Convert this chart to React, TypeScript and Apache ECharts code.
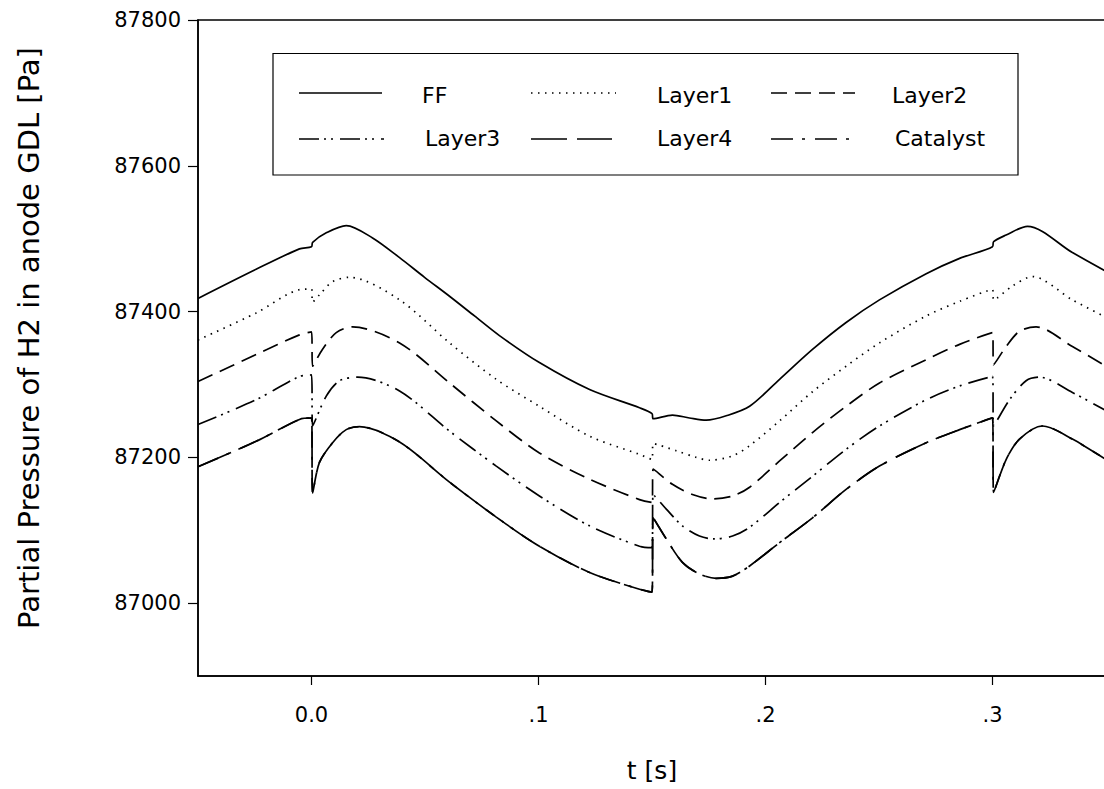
import React, { useEffect, useRef } from "react";
import * as echarts from "echarts";

const FONT = "DejaVu Sans";

const seriesNames = ["FF", "Layer1", "Layer2", "Layer3", "Layer4", "Catalyst"];
const xTicks = [0, 0.1, 0.2, 0.3];
const xTickLabels = ["0.0", ".1", ".2", ".3"];
const yTicks = [87000, 87200, 87400, 87600, 87800];

// [t (s), pressure (Pa)]
const ffData = [
  [-0.05, 87418], [-0.0244, 87458], [-0.0053, 87486], [0, 87489], [0.0005, 87495],
  [0.0065, 87508], [0.0153, 87518], [0.0269, 87501], [0.0388, 87474], [0.0498, 87447],
  [0.0608, 87421], [0.0718, 87394], [0.0828, 87367], [0.1004, 87330], [0.1225, 87293],
  [0.1445, 87268], [0.15, 87260], [0.1505, 87253], [0.159, 87258], [0.1665, 87254],
  [0.1739, 87251], [0.1827, 87257], [0.193, 87270], [0.2062, 87307], [0.2207, 87348],
  [0.2355, 87385], [0.2502, 87416], [0.2708, 87452], [0.2855, 87473], [0.3, 87489],
  [0.3005, 87496], [0.306, 87505], [0.3154, 87517], [0.3352, 87481], [0.35, 87455],
];
const layer1Data = [
  [-0.05, 87361], [-0.0244, 87398], [-0.0053, 87430], [0, 87431], [0.0005, 87413],
  [0.0035, 87423], [0.0093, 87441], [0.0167, 87447], [0.0388, 87416], [0.0608, 87357],
  [0.0814, 87307], [0.1004, 87270], [0.1225, 87229], [0.1445, 87204], [0.15, 87197],
  [0.1505, 87219], [0.1607, 87209], [0.1695, 87200], [0.1753, 87196], [0.1855, 87202],
  [0.193, 87216], [0.2062, 87250], [0.2207, 87290], [0.2355, 87325], [0.2502, 87357],
  [0.2708, 87394], [0.2855, 87414], [0.3, 87430], [0.3005, 87416], [0.3088, 87435],
  [0.3176, 87448], [0.3352, 87416], [0.35, 87392],
];
const layer2Data = [
  [-0.05, 87304], [-0.0244, 87341], [-0.0053, 87368], [0, 87372], [0.0005, 87325],
  [0.0048, 87348], [0.0109, 87371], [0.0181, 87379], [0.0388, 87357], [0.0608, 87302],
  [0.0814, 87250], [0.1004, 87206], [0.1225, 87170], [0.1445, 87142], [0.15, 87138],
  [0.1505, 87184], [0.159, 87163], [0.1678, 87149], [0.1767, 87143], [0.1855, 87147],
  [0.193, 87159], [0.2062, 87195], [0.2207, 87234], [0.2355, 87270], [0.2502, 87302],
  [0.2708, 87334], [0.2855, 87355], [0.3, 87371], [0.3005, 87327], [0.306, 87352],
  [0.3119, 87373], [0.3192, 87379], [0.3352, 87352], [0.35, 87325],
];
const layer3Data = [
  [-0.05, 87245], [-0.0244, 87279], [-0.0053, 87311], [0, 87313], [0.0005, 87243],
  [0.0065, 87284], [0.0123, 87305], [0.0203, 87310], [0.0388, 87291], [0.0608, 87236],
  [0.0814, 87188], [0.1004, 87147], [0.1225, 87106], [0.1445, 87078], [0.15, 87076],
  [0.1505, 87149], [0.1563, 87129], [0.1634, 87106], [0.1709, 87092], [0.1775, 87088],
  [0.1855, 87092], [0.193, 87104], [0.2062, 87138], [0.2207, 87174], [0.2355, 87211],
  [0.2502, 87243], [0.2708, 87279], [0.2855, 87298], [0.3, 87311], [0.3005, 87243],
  [0.3075, 87279], [0.3148, 87305], [0.3207, 87310], [0.3352, 87289], [0.35, 87264],
];
const layer4Data = [
  [-0.05, 87187], [-0.0244, 87222], [-0.0053, 87252], [0, 87254], [0.0005, 87151],
  [0.0035, 87193], [0.0093, 87220], [0.0153, 87238], [0.0211, 87242], [0.0388, 87221],
  [0.0608, 87166], [0.0814, 87118], [0.1004, 87078], [0.1225, 87042], [0.1445, 87019],
  [0.15, 87015], [0.1505, 87117], [0.1563, 87088], [0.1634, 87056], [0.1709, 87040],
  [0.1783, 87034], [0.1855, 87037], [0.193, 87051], [0.2062, 87083], [0.2207, 87117],
  [0.2355, 87156], [0.2502, 87188], [0.2708, 87220], [0.2855, 87238], [0.3, 87254],
  [0.3005, 87152], [0.306, 87197], [0.3119, 87225], [0.322, 87243], [0.3352, 87225],
  [0.35, 87197],
];
const catalystData = [
  [-0.05, 87187], [-0.0244, 87222], [-0.0053, 87252], [0, 87254], [0.0005, 87151],
  [0.0035, 87193], [0.0093, 87220], [0.0153, 87238], [0.0211, 87242], [0.0388, 87221],
  [0.0608, 87166], [0.0814, 87118], [0.1004, 87078], [0.1225, 87042], [0.1445, 87019],
  [0.15, 87015], [0.1505, 87117], [0.1563, 87088], [0.1634, 87056], [0.1709, 87040],
  [0.1783, 87034], [0.1855, 87037], [0.193, 87051], [0.2062, 87083], [0.2207, 87117],
  [0.2355, 87156], [0.2502, 87188], [0.2708, 87220], [0.2855, 87238], [0.3, 87254],
  [0.3005, 87152], [0.306, 87197], [0.3119, 87225], [0.322, 87243], [0.3352, 87225],
  [0.35, 87197],
];

const allData = [ffData, layer1Data, layer2Data, layer3Data, layer4Data, catalystData];
const dashes: any[] = [
  null,
  [1.5, 5.5],
  [16, 8],
  [20, 5, 2, 5, 2, 7],
  [36, 10],
  [22, 9, 3, 10],
];

// legend layout: [sample x1, sample x2, line y, text x, text y]
const legendLayout = [
  [299, 382, 93, 422, 95],
  [531, 616, 93, 657, 95],
  [771, 855, 93, 892, 95],
  [299, 384, 139, 425, 138],
  [531, 612, 139, 657, 138],
  [771, 856, 139, 895, 138],
];

export default function App() {
  const ref = useRef<HTMLDivElement>(null);
  useEffect(() => {
    document.body.style.margin = "0";
    const chart = echarts.init(ref.current!, null, { renderer: "svg" });

    const legendGraphics: any[] = [];
    seriesNames.forEach((name, i) => {
      const [x1, x2, ly, tx, ty] = legendLayout[i];
      legendGraphics.push({
        type: "line",
        shape: { x1, y1: ly, x2, y2: ly },
        style: { stroke: "#000", lineWidth: 1.7, lineDash: dashes[i], lineCap: "butt" },
        silent: true,
      });
      legendGraphics.push({
        type: "text",
        x: tx,
        y: ty,
        style: {
          text: name,
          fontFamily: FONT,
          fontSize: 22,
          fill: "#000",
          align: "left",
          verticalAlign: "middle",
          textAlign: "left",
          textVerticalAlign: "middle",
        },
        silent: true,
      });
    });

    chart.setOption({
      animation: false,
      backgroundColor: "#fff",
      grid: {
        left: 198,
        top: 20,
        width: 908,
        height: 656,
        show: true,
        borderColor: "#000",
        borderWidth: 1.5,
        containLabel: false,
        outerBoundsMode: "none",
      },
      xAxis: {
        type: "value",
        min: -0.05,
        max: 0.35,
        splitLine: { show: false },
        axisLine: { onZero: false, lineStyle: { color: "#000", width: 1.5 } },
        axisTick: { customValues: xTicks, length: 9, lineStyle: { color: "#000", width: 1.2 } },
        axisLabel: {
          customValues: xTicks,
          margin: 28,
          fontFamily: FONT,
          fontSize: 21,
          color: "#000",
          formatter: (v: number) => {
            const i = xTicks.findIndex((t) => Math.abs(t - v) < 1e-9);
            return i >= 0 ? xTickLabels[i] : "";
          },
        },
      },
      yAxis: {
        type: "value",
        min: 86900,
        max: 87800,
        splitLine: { show: false },
        axisLine: { onZero: false, lineStyle: { color: "#000", width: 1.5 } },
        axisTick: { customValues: yTicks, length: 10, lineStyle: { color: "#000", width: 1.2 } },
        axisLabel: {
          customValues: yTicks,
          margin: 17,
          fontFamily: FONT,
          fontSize: 21,
          color: "#000",
          formatter: (v: number) => String(Math.round(v)),
        },
      },
      series: seriesNames.map((name, i) => ({
        name,
        type: "line",
        data: allData[i],
        symbol: "none",
        showSymbol: false,
        smooth: 0.3,
        color: "#000",
        lineStyle: { color: "#000", width: 1.7, type: dashes[i] || "solid", cap: "butt" },
        z: 3,
      })),
      graphic: [
        {
          type: "rect",
          shape: { x: 273, y: 53.5, width: 745, height: 121.5 },
          style: { fill: "none", stroke: "#000", lineWidth: 1.2 },
          silent: true,
        },
        ...legendGraphics,
        {
          type: "text",
          x: 29,
          y: 338,
          rotation: Math.PI / 2,
          style: {
            text: "Partial Pressure of H2 in anode GDL [Pa]",
            fontFamily: FONT,
            fontSize: 29,
            fill: "#000",
            align: "center",
            verticalAlign: "middle",
            textAlign: "center",
            textVerticalAlign: "middle",
          },
        },
        {
          type: "text",
          x: 652,
          y: 770,
          style: {
            text: "t [s]",
            fontFamily: FONT,
            fontSize: 25,
            fill: "#000",
            align: "center",
            verticalAlign: "middle",
            textAlign: "center",
            textVerticalAlign: "middle",
          },
        },
      ],
    });
    return () => chart.dispose();
  }, []);
  return (
    <div
      ref={ref}
      style={{ position: "absolute", left: 0, top: 0, width: 1104, height: 789 }}
    />
  );
}
